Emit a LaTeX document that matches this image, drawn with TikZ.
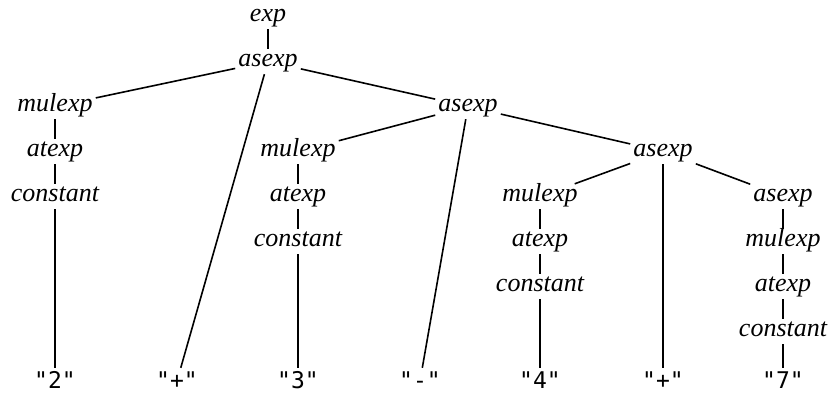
\documentclass[tikz,border=0pt]{standalone}
\usepackage{fontspec}
\setmainfont{Liberation Serif}
\setmonofont{DejaVu Sans Mono}
\usepackage{tikz}
\usetikzlibrary{positioning}

\tikzset{
  nt/.style={font=\itshape\fontsize{26}{26}\selectfont, anchor=base,
    inner sep=3pt, text height=14pt, text depth=5pt},
  tm/.style={font=\ttfamily\fontsize{23}{23}\selectfont, anchor=base,
    inner sep=3pt, text height=17pt, text depth=3pt},
  edge/.style={line width=1.6pt}
}

\begin{document}
\begin{tikzpicture}[x=1pt, y=-1pt]
    \useasboundingbox (0,0) rectangle (834,394);
    % nonterminals
    \node[nt] (exp)    at (268,21)  {exp};
    \node[nt] (as1)    at (268,66)  {asexp};
    \node[nt] (mul1)   at (55,111)  {mulexp};
    \node[nt] (at1)    at (55,156)  {atexp};
    \node[nt] (con1)   at (55,201)  {constant};
    \node[nt] (as2)    at (468,111) {asexp};
    \node[nt] (mul2)   at (298,156) {mulexp};
    \node[nt] (at2)    at (298,201) {atexp};
    \node[nt] (con2)   at (298,246) {constant};
    \node[nt] (as3)    at (663,156) {asexp};
    \node[nt] (mul3)   at (540,201) {mulexp};
    \node[nt] (at3)    at (540,246) {atexp};
    \node[nt] (con3)   at (540,291) {constant};
    \node[nt] (as4)    at (783,201) {asexp};
    \node[nt] (mul4)   at (783,246) {mulexp};
    \node[nt] (at4)    at (783,291) {atexp};
    \node[nt] (con4)   at (783,336) {constant};
    % terminals
    \node[tm] (two)    at (55,388)  {"2"};
    \node[tm] (plus1)  at (177,388) {"+"};
    \node[tm] (three)  at (298,388) {"3"};
    \node[tm] (minus)  at (420,388) {"-"};
    \node[tm] (four)   at (540,388) {"4"};
    \node[tm] (plus2)  at (663,388) {"+"};
    \node[tm] (seven)  at (783,388) {"7"};

    \draw[edge] (exp) -- (as1);
    \draw[edge] (as1) -- (mul1);
    \draw[edge] (as1) -- (plus1);
    \draw[edge] (as1) -- (as2);
    \draw[edge] (mul1) -- (at1) -- (con1) -- (two);
    \draw[edge] (as2) -- (mul2);
    \draw[edge] (as2) -- (minus);
    \draw[edge] (as2) -- (as3);
    \draw[edge] (mul2) -- (at2) -- (con2) -- (three);
    \draw[edge] (as3) -- (mul3);
    \draw[edge] (as3) -- (plus2);
    \draw[edge] (as3) -- (as4);
    \draw[edge] (mul3) -- (at3) -- (con3) -- (four);
    \draw[edge] (as4) -- (mul4) -- (at4) -- (con4) -- (seven);
  \end{tikzpicture}
\end{document}
